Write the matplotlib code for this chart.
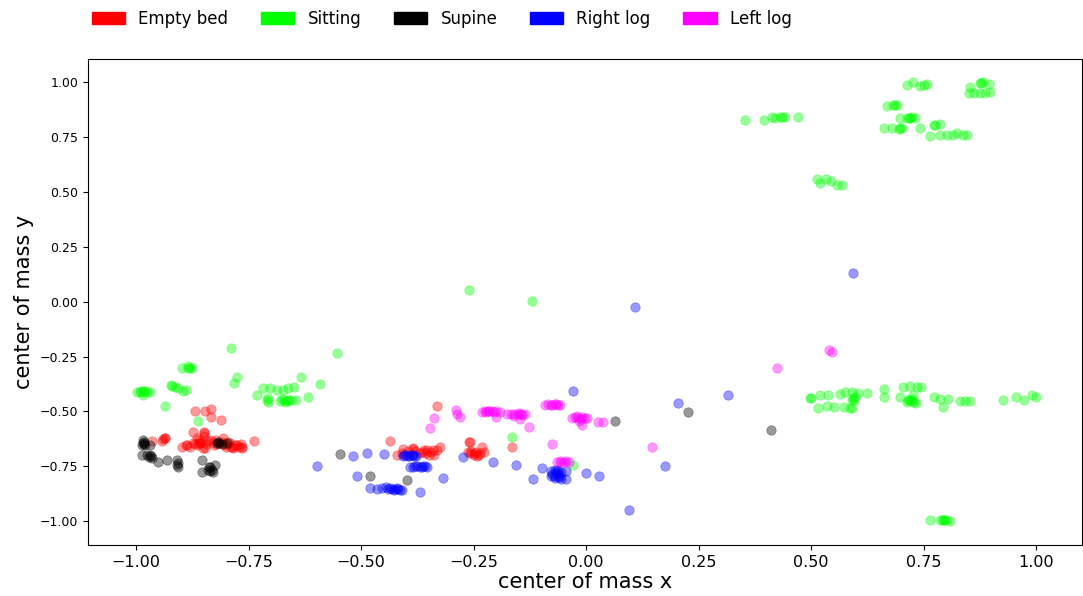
import matplotlib
matplotlib.use("Agg")
import matplotlib.pyplot as plt
import matplotlib.patches as mpatches

labels = ["Empty bed", "Sitting", "Supine", "Right log", "Left log"]
colors = ["#ff0000", "#00ff00", "#000000", "#0000ff", "#ff00ff"]

empty_bed = [
    (-0.870, -0.498), (-0.848, -0.498), (-0.833, -0.49), (-0.833, -0.527), (-0.811, -0.539),
    (-0.936, -0.62), (-0.943, -0.635), (-0.965, -0.635), (-0.936, -0.62), (-0.94, -0.625),
    (-0.898, -0.661), (-0.887, -0.653), (-0.873, -0.646), (-0.865, -0.623), (-0.850, -0.60),
    (-0.858, -0.646), (-0.847, -0.668), (-0.836, -0.63), (-0.822, -0.63), (-0.807, -0.623),
    (-0.799, -0.653), (-0.791, -0.646), (-0.784, -0.668), (-0.776, -0.653), (-0.765, -0.661),
    (-0.739, -0.635), (-0.873, -0.593), (-0.850, -0.593),
    (-0.862, -0.655), (-0.855, -0.64), (-0.845, -0.65), (-0.83, -0.64), (-0.82, -0.65),
    (-0.81, -0.64), (-0.80, -0.66), (-0.79, -0.66), (-0.78, -0.655), (-0.768, -0.65),
    (-0.765, -0.665), (-0.88, -0.66), (-0.89, -0.655), (-0.87, -0.65),
    (-0.86, -0.63), (-0.852, -0.665), (-0.842, -0.635), (-0.826, -0.655), (-0.805, -0.65),
    (-0.795, -0.64), (-0.785, -0.66), (-0.772, -0.66), (-0.85, -0.61), (-0.86, -0.645),
    (-0.436, -0.634), (-0.421, -0.699), (-0.406, -0.673), (-0.384, -0.668), (-0.362, -0.686),
    (-0.354, -0.676), (-0.339, -0.699), (-0.332, -0.676), (-0.324, -0.661), (-0.332, -0.475),
    (-0.41, -0.69), (-0.395, -0.68), (-0.38, -0.68), (-0.37, -0.69), (-0.36, -0.675),
    (-0.345, -0.685), (-0.34, -0.675), (-0.35, -0.70), (-0.385, -0.672), (-0.355, -0.69),
    (-0.259, -0.638), (-0.258, -0.691), (-0.243, -0.704), (-0.262, -0.684), (-0.25, -0.691),
    (-0.239, -0.699), (-0.228, -0.684), (-0.232, -0.661), (-0.255, -0.68), (-0.245, -0.685),
    (-0.235, -0.69), (-0.26, -0.64), (-0.25, -0.70), (-0.164, -0.661),
]

sitting = [
    (-0.79, -0.21), (-0.898, -0.30), (-0.885, -0.30), (-0.876, -0.30), (-0.885, -0.295), (-0.88, -0.30),
    (-0.923, -0.38), (-0.913, -0.387), (-0.906, -0.395), (-0.895, -0.407), (-0.89, -0.40), (-0.92, -0.385),
    (-0.998, -0.41), (-0.991, -0.41), (-0.98, -0.407), (-0.969, -0.41), (-0.984, -0.425), (-0.985, -0.405),
    (-0.975, -0.41), (-0.99, -0.408), (-0.776, -0.342), (-0.782, -0.369), (-0.936, -0.477), (-0.863, -0.544),
    (-0.732, -0.427), (-0.717, -0.395), (-0.702, -0.395), (-0.687, -0.402), (-0.673, -0.402),
    (-0.662, -0.395), (-0.71, -0.448), (-0.68, -0.452), (-0.665, -0.452), (-0.707, -0.459),
    (-0.65, -0.39), (-0.655, -0.45), (-0.645, -0.45), (-0.708, -0.44), (-0.675, -0.445), (-0.67, -0.455),
    (-0.66, -0.45), (-0.672, -0.45),
    (-0.554, -0.235), (-0.634, -0.342), (-0.591, -0.375), (-0.619, -0.433),
    (-0.26, 0.053), (-0.12, 0.003), (-0.164, -0.618), (-0.03, -0.745),
    (0.498, -0.44), (0.50, -0.44), (0.52, -0.425), (0.537, -0.425), (0.564, -0.422), (0.576, -0.413),
    (0.59, -0.41), (0.598, -0.433), (0.605, -0.418), (0.625, -0.418), (0.516, -0.483),
    (0.535, -0.474), (0.55, -0.479), (0.572, -0.479), (0.587, -0.483), (0.59, -0.483),
    (0.59, -0.448), (0.592, -0.44), (0.595, -0.45), (0.661, -0.398), (0.661, -0.433),
    (0.705, -0.39), (0.72, -0.384), (0.735, -0.39), (0.744, -0.39), (0.698, -0.433),
    (0.713, -0.456), (0.718, -0.45), (0.724, -0.445), (0.728, -0.455), (0.733, -0.46),
    (0.715, -0.448), (0.722, -0.452),
    (0.727, -0.425), (0.772, -0.436), (0.787, -0.445), (0.805, -0.445), (0.794, -0.482),
    (0.831, -0.451), (0.842, -0.451), (0.853, -0.451), (0.927, -0.448), (0.956, -0.436),
    (0.972, -0.448), (0.99, -0.425), (1.0, -0.436),
    (0.764, -0.995), (0.787, -0.997), (0.794, -0.995), (0.797, -0.993), (0.80, -0.997), (0.809, -0.999),
    (0.792, -0.996),
    (0.352, 0.829), (0.396, 0.829), (0.413, 0.841), (0.431, 0.841), (0.442, 0.844), (0.42, 0.84),
    (0.435, 0.843), (0.47, 0.844),
    (0.514, 0.56), (0.52, 0.54), (0.533, 0.56), (0.544, 0.552), (0.557, 0.532), (0.568, 0.532),
    (0.668, 0.893), (0.683, 0.897), (0.69, 0.897), (0.686, 0.895),
    (0.661, 0.791), (0.679, 0.791), (0.698, 0.791), (0.701, 0.794), (0.742, 0.791), (0.695, 0.79),
    (0.698, 0.837), (0.713, 0.837), (0.724, 0.841), (0.731, 0.837), (0.718, 0.84), (0.72, 0.838),
    (0.713, 0.989), (0.727, 1.004), (0.742, 0.985), (0.75, 0.989), (0.757, 0.992),
    (0.772, 0.806), (0.787, 0.809), (0.776, 0.806),
    (0.764, 0.756), (0.787, 0.761), (0.801, 0.761), (0.816, 0.761), (0.824, 0.768),
    (0.838, 0.761), (0.846, 0.761),
    (0.853, 0.978), (0.85, 0.951), (0.861, 0.951), (0.876, 0.951), (0.887, 0.954), (0.898, 0.955),
    (0.876, 0.996), (0.883, 1.0), (0.896, 0.993), (0.878, 0.998),
]

supine = [
    (-0.984, -0.63), (-0.987, -0.653), (-0.98, -0.653), (-0.987, -0.699), (-0.969, -0.699),
    (-0.965, -0.714), (-0.951, -0.729), (-0.932, -0.722), (-0.91, -0.722), (-0.906, -0.752),
    (-0.854, -0.722), (-0.854, -0.775), (-0.839, -0.752), (-0.832, -0.767), (-0.824, -0.745),
    (-0.821, -0.646), (-0.799, -0.646), (-0.969, -0.653),
    (-0.982, -0.64), (-0.985, -0.645), (-0.975, -0.70), (-0.968, -0.705), (-0.908, -0.735),
    (-0.91, -0.745), (-0.84, -0.765), (-0.835, -0.755), (-0.83, -0.775), (-0.815, -0.645),
    (-0.81, -0.65), (-0.983, -0.648), (-0.972, -0.708), (-0.836, -0.77), (-0.818, -0.64),
    (-0.547, -0.696), (-0.48, -0.793), (-0.398, -0.813), (0.064, -0.545), (0.227, -0.501),
    (0.411, -0.585),
]

right_log = [
    (-0.597, -0.748), (-0.517, -0.702), (-0.487, -0.688), (-0.45, -0.696), (-0.51, -0.795),
    (-0.48, -0.851), (-0.465, -0.855), (-0.454, -0.851), (-0.444, -0.843), (-0.369, -0.869),
    (-0.318, -0.802), (-0.274, -0.706), (-0.391, -0.752),
    (-0.407, -0.702), (-0.40, -0.70), (-0.393, -0.702), (-0.385, -0.70), (-0.378, -0.702),
    (-0.404, -0.698), (-0.396, -0.704), (-0.388, -0.698), (-0.382, -0.704),
    (-0.384, -0.752), (-0.375, -0.75), (-0.365, -0.752), (-0.358, -0.75), (-0.353, -0.752),
    (-0.38, -0.748), (-0.37, -0.754), (-0.362, -0.748),
    (-0.44, -0.855), (-0.432, -0.852), (-0.425, -0.855), (-0.418, -0.855), (-0.41, -0.856),
    (-0.436, -0.85), (-0.428, -0.858), (-0.42, -0.85), (-0.414, -0.858),
    (-0.03, -0.406), (-0.207, -0.732), (-0.156, -0.742), (-0.097, -0.76), (-0.119, -0.81),
    (-0.044, -0.772), (-0.044, -0.81), (-0.001, -0.78), (0.029, -0.793), (0.095, -0.95),
    (-0.078, -0.77), (-0.07, -0.768), (-0.062, -0.772), (-0.056, -0.775), (-0.078, -0.795),
    (-0.07, -0.805), (-0.062, -0.80), (-0.055, -0.81), (-0.075, -0.785), (-0.06, -0.788),
    (-0.068, -0.78), (-0.072, -0.795), (-0.058, -0.798), (-0.065, -0.765),
    (0.109, -0.025), (0.205, -0.463), (0.315, -0.425), (0.593, 0.131), (0.176, -0.749),
]

left_log = [
    (-0.339, -0.532), (-0.347, -0.574), (-0.289, -0.494), (-0.287, -0.512), (-0.28, -0.527),
    (-0.232, -0.501), (-0.225, -0.498), (-0.218, -0.50), (-0.21, -0.498), (-0.20, -0.50),
    (-0.191, -0.501), (-0.20, -0.524), (-0.222, -0.502), (-0.215, -0.496), (-0.205, -0.502),
    (-0.176, -0.513), (-0.168, -0.512), (-0.16, -0.51), (-0.152, -0.513), (-0.144, -0.51),
    (-0.136, -0.513), (-0.147, -0.536), (-0.16, -0.52), (-0.15, -0.508), (-0.142, -0.515),
    (-0.091, -0.471), (-0.085, -0.468), (-0.078, -0.47), (-0.07, -0.468), (-0.063, -0.47),
    (-0.058, -0.471), (-0.075, -0.472), (-0.068, -0.466),
    (-0.032, -0.532), (-0.025, -0.525), (-0.018, -0.53), (-0.01, -0.525), (-0.003, -0.53),
    (0.001, -0.532), (-0.01, -0.562), (0.027, -0.55), (0.037, -0.55), (-0.015, -0.545),
    (-0.02, -0.522), (-0.012, -0.535),
    (-0.127, -0.57), (-0.075, -0.65),
    (-0.065, -0.73), (-0.058, -0.728), (-0.05, -0.73), (-0.044, -0.728), (-0.039, -0.73),
    (-0.055, -0.732),
    (0.425, -0.302), (0.146, -0.661), (0.54, -0.22), (0.547, -0.228),
]

series = [empty_bed, sitting, supine, right_log, left_log]

fig = plt.figure(figsize=(10.83, 5.96), dpi=100)
ax = fig.add_axes([88 / 1083, 1 - 545 / 596, (1082 - 88) / 1083, (545 - 59) / 596])

for pts, c in zip(series, colors):
    xs = [p[0] for p in pts]
    ys = [p[1] for p in pts]
    ax.scatter(xs, ys, s=46, c=c, alpha=0.4, linewidths=0.5, edgecolors=c)

ax.set_xlim(-1.107, 1.102)
ax.set_ylim(-1.109, 1.107)
ax.set_xticks([-1.0, -0.75, -0.5, -0.25, 0.0, 0.25, 0.5, 0.75, 1.0])
ax.set_yticks([-1.0, -0.75, -0.5, -0.25, 0.0, 0.25, 0.5, 0.75, 1.0])
ax.tick_params(axis="x", labelsize=11.5)
ax.tick_params(axis="y", labelsize=9)
ax.set_xlabel("center of mass x", fontsize=15, labelpad=2)
ax.set_ylabel("center of mass y", fontsize=15, labelpad=4)

handles = [mpatches.Patch(color=c, label=l) for l, c in zip(labels, colors)]
fig.legend(handles=handles, loc="center left", bbox_to_anchor=(85 / 1083, 1 - 19 / 596),
           ncol=5, frameon=False, fontsize=12, borderaxespad=0, columnspacing=1.95)

fig.savefig("out.png", dpi=100)
